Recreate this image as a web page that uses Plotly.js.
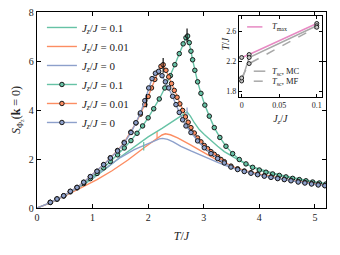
<!DOCTYPE html>
<html><head><meta charset="utf-8">
<script src="https://cdn.plot.ly/plotly-3.0.1.min.js"></script>
<style>html,body{margin:0;padding:0;background:#fff}#plot{width:340px;height:255px}</style>
</head><body><div id="plot"></div>
<script>
// ---------- main panel: curves without markers ----------
const greenLineT = [0,0.25,0.5,0.75,1.0,1.25,1.5,1.75,2.0,2.25,2.5,2.62,2.7,2.76,2.83,2.92,3.01,3.13,3.25,3.37,3.49,3.67,3.85,4.05,4.25,4.5,4.75,5.0,5.2];
const greenLineS = [0,0.22,0.5,0.82,1.2,1.62,2.08,2.5,2.9,3.25,3.6,3.8,3.92,3.75,3.48,3.2,3.0,2.75,2.52,2.3,2.13,1.9,1.7,1.55,1.42,1.29,1.17,1.06,0.99];
const orangeLineT = [0,0.25,0.54,0.8,1.08,1.35,1.63,1.92,2.16,2.25,2.31,2.4,2.53,2.65,2.77,2.95,3.1,3.25,3.5,3.75,4.0,4.25,4.5,4.75,5.0,5.2];
const orangeLineS = [0,0.22,0.54,0.83,1.16,1.52,1.95,2.45,2.86,2.98,3.03,2.99,2.86,2.72,2.57,2.33,2.12,1.94,1.7,1.52,1.38,1.26,1.16,1.07,0.99,0.93];
const blueLineT = [0,0.25,0.5,0.75,1.0,1.25,1.5,1.75,1.92,2.08,2.2,2.26,2.35,2.45,2.59,2.77,2.95,3.1,3.25,3.5,3.75,4.0,4.25,4.5,4.75,5.0,5.2];
const blueLineS = [0,0.23,0.51,0.84,1.24,1.66,2.06,2.38,2.55,2.72,2.82,2.84,2.8,2.7,2.52,2.33,2.15,2.0,1.86,1.64,1.48,1.35,1.24,1.14,1.06,0.98,0.92];

// ---------- main panel: curves with markers ----------
const greenDotT = [0.24,0.36,0.48,0.6,0.72,0.84,0.96,1.08,1.2,1.32,1.45,1.57,1.69,1.8,1.9,2.0,2.1,2.2,2.3,2.4,2.48,2.56,2.63,2.68,2.71,2.74,2.77,2.8,2.84,2.89,2.95,3.02,3.1,3.19,3.29,3.4,3.52,3.64,3.76,3.88,4.0,4.12,4.24,4.36,4.48,4.6,4.72,4.84,4.96,5.08,5.2];
const greenDotS = [0.23,0.36,0.49,0.66,0.82,1.0,1.2,1.41,1.64,1.9,2.17,2.45,2.75,3.05,3.35,3.68,4.05,4.45,4.9,5.4,5.85,6.3,6.7,6.95,7.02,6.75,6.4,6.05,5.62,5.15,4.68,4.2,3.75,3.28,2.88,2.52,2.22,1.98,1.8,1.66,1.55,1.46,1.39,1.33,1.27,1.21,1.16,1.11,1.06,1.02,0.98];
const orangeDotT = [0.24,0.36,0.48,0.6,0.72,0.84,0.96,1.08,1.2,1.32,1.45,1.57,1.69,1.78,1.86,1.94,2.0,2.06,2.12,2.18,2.23,2.27,2.32,2.37,2.42,2.47,2.52,2.57,2.62,2.67,2.72,2.77,2.83,2.89,2.95,3.01,3.07,3.13,3.19,3.25,3.31,3.37,3.49,3.61,3.73,3.85,3.97,4.09,4.21,4.33,4.45,4.57,4.7,4.82,4.94,5.06,5.18];
const orangeDotS = [0.23,0.37,0.5,0.68,0.84,1.05,1.28,1.5,1.77,2.05,2.35,2.68,3.1,3.47,3.83,4.22,4.55,4.9,5.25,5.55,5.78,5.85,5.62,5.35,5.08,4.8,4.52,4.25,3.98,3.72,3.5,3.28,3.06,2.86,2.7,2.55,2.42,2.3,2.19,2.09,1.98,1.89,1.71,1.6,1.51,1.44,1.38,1.32,1.27,1.22,1.17,1.13,1.08,1.04,1.0,0.96,0.92];
const blueDotT = [0.24,0.36,0.48,0.6,0.72,0.84,0.96,1.08,1.2,1.32,1.45,1.57,1.69,1.78,1.86,1.94,2.01,2.07,2.13,2.19,2.25,2.31,2.37,2.44,2.5,2.56,2.62,2.68,2.77,2.89,3.01,3.13,3.25,3.37,3.49,3.61,3.73,3.85,3.97,4.09,4.21,4.33,4.45,4.57,4.7,4.82,4.94,5.06,5.18];
const blueDotS = [0.23,0.37,0.5,0.68,0.84,1.05,1.28,1.5,1.77,2.04,2.33,2.66,3.08,3.48,3.88,4.38,4.9,5.28,5.5,5.58,5.4,5.15,4.9,4.56,4.22,3.9,3.6,3.35,3.08,2.74,2.46,2.22,2.02,1.84,1.67,1.57,1.49,1.42,1.36,1.3,1.25,1.2,1.16,1.11,1.06,1.02,0.98,0.94,0.91];

// ---------- error-bar ticks (T_sc markers) ----------
const dotTickT = [1.97, 2.27, 2.70];
const dotTickS = [4.38, 5.82, 7.05];
const dotTickErr = [0.27, 0.30, 0.28];
const lineTickT = [1.92, 2.16, 2.70];
const lineTickS = [2.52, 2.98, 3.90];
const lineTickErr = [0.17, 0.12, 0.2];

// ---------- inset ----------
const jz = [0, 0.01, 0.1];
const tMax = [2.25, 2.29, 2.70];
const tScMC = [1.94, 2.25, 2.67];
const tScMF = [1.98, 2.17, 2.65];
const insetLabels = ['<i>T</i><sub>max</sub>', '<i>T</i><sub>sc</sub>, MC', '<i>T</i><sub>sc</sub>, MF'];

const legendLabels = ['<i>J<sub>z</sub></i>/<i>J</i> = 0.1', '<i>J<sub>z</sub></i>/<i>J</i> = 0.01', '<i>J<sub>z</sub></i>/<i>J</i> = 0'];
const cGreen = '#66c2a5', cOrange = '#fc8d62', cBlue = '#8da0cb', cPink = '#e78ac3', cGray = '#a8a8a8';
const colors = [cGreen, cOrange, cBlue];

const traces = [];
const lineSets = [[greenLineT, greenLineS], [orangeLineT, orangeLineS], [blueLineT, blueLineS]];
lineSets.forEach((s, i) => traces.push({
  x: s[0], y: s[1], mode: 'lines', name: legendLabels[i], line: {color: colors[i], width: 1.4},
  xaxis: 'x', yaxis: 'y'
}));
lineTickT.forEach((t, i) => traces.push({
  x: [t], y: [lineTickS[i]], mode: 'markers', marker: {size: 1, color: 'rgba(0,0,0,0)'},
  error_y: {type: 'data', array: [lineTickErr[i]], color: colors[i], thickness: 1.2, width: 0},
  showlegend: false, hoverinfo: 'skip'
}));
const dotSets = [[greenDotT, greenDotS], [orangeDotT, orangeDotS], [blueDotT, blueDotS]];
dotSets.forEach((s, i) => traces.push({
  x: s[0], y: s[1], mode: 'lines+markers', name: legendLabels[i],
  line: {color: colors[i], width: 1.4},
  marker: {symbol: 'circle', size: 4.5, color: colors[i], line: {color: '#1a1a1a', width: 1}},
  xaxis: 'x', yaxis: 'y'
}));
traces.push({
  x: dotTickT, y: dotTickS, mode: 'markers', marker: {size: 1, color: 'rgba(0,0,0,0)'},
  error_y: {type: 'data', array: dotTickErr, color: '#111', thickness: 1.2, width: 0},
  showlegend: false, hoverinfo: 'skip'
});

// inset traces
const insetSeries = [tMax, tScMC, tScMF];
const insetStyles = [{color: cPink, width: 1.5}, {color: cGray, width: 1.5}, {color: cGray, width: 1.5, dash: 'dash'}];
insetSeries.forEach((v, i) => traces.push({x: jz, y: v, mode: 'lines', name: insetLabels[i], line: insetStyles[i],
  xaxis: 'x2', yaxis: 'y2', showlegend: false}));
insetSeries.forEach(v => traces.push({
  x: jz, y: v, mode: 'markers', marker: {size: 4, color: '#c8c8c8', line: {color: '#222', width: 1}},
  xaxis: 'x2', yaxis: 'y2', showlegend: false, hoverinfo: 'skip'
}));

const serif = 'Liberation Serif, DejaVu Serif, serif';
const axBase = {showline: true, mirror: 'ticks', linecolor: '#000', linewidth: 1.2, ticks: 'inside',
  tickcolor: '#000', showgrid: false, zeroline: false, tickfont: {family: serif, size: 10, color: '#222'}};

// inset key (line samples + labels), positioned in paper coordinates
const keyY = [0.924, 0.698, 0.647];
const keyX0 = [0.727, 0.75, 0.75], keyX1 = [0.78, 0.79, 0.79];
const shapes = insetStyles.map((st, i) => ({type: 'line', xref: 'paper', yref: 'paper',
  x0: keyX0[i], x1: keyX1[i], y0: keyY[i], y1: keyY[i], line: st}));
const annotations = insetLabels.map((t, i) => ({text: t, xref: 'paper', yref: 'paper', x: 0.805, y: keyY[i],
  xanchor: 'left', yanchor: 'middle', showarrow: false, font: {family: serif, size: 8.5, color: '#222'}}));
annotations.push({text: '<i>T</i>/<i>J</i>', xref: 'paper', yref: 'paper', x: 0.675, y: 0.88,
  textangle: -90, showarrow: false, font: {family: serif, size: 10, color: '#222'}});

const layout = {
  width: 340, height: 255,
  margin: {l: 37, r: 14, t: 12, b: 47},
  paper_bgcolor: '#fff', plot_bgcolor: '#fff',
  font: {family: serif, color: '#222'},
  xaxis: Object.assign({}, axBase, {range: [0, 5.2], tickvals: [0,1,2,3,4,5], ticklen: 4, domain: [0, 1],
    title: {text: '<i>T</i>/<i>J</i>', font: {family: serif, size: 12}, standoff: 9}}),
  yaxis: Object.assign({}, axBase, {range: [0, 8], tickvals: [0,2,4,6,8], ticklen: 4, domain: [0, 1],
    title: {text: '<i>S</i><sub>Φ<sub>z</sub></sub>(<b>k</b> = 0)', font: {family: serif, size: 12}, standoff: 5}}),
  xaxis2: Object.assign({}, axBase, {anchor: 'y2', domain: [0.699, 0.985], range: [-0.0035, 0.1065],
    tickvals: [0, 0.05, 0.1], ticktext: ['0', '0.05', '0.1'], ticklen: 3, linewidth: 1.2,
    tickfont: {family: serif, size: 8, color: '#222'},
    title: {text: '<i>J<sub>z</sub></i>/<i>J</i>', font: {family: serif, size: 10}, standoff: 6}}),
  yaxis2: Object.assign({}, axBase, {anchor: 'x2', domain: [0.567, 0.98], range: [1.73, 2.8],
    tickvals: [1.8, 2.2, 2.6], ticktext: ['1.8', '2.2', '2.6'], ticklen: 3, linewidth: 1.2,
    tickfont: {family: serif, size: 8, color: '#222'}}),
  legend: {x: 0.017, y: 0.995, xanchor: 'left', yanchor: 'top', bgcolor: 'rgba(0,0,0,0)',
    font: {family: serif, size: 11, color: '#222'}, tracegroupgap: 0, itemwidth: 30},
  shapes: shapes,
  annotations: annotations,
  showlegend: true
};
Plotly.newPlot('plot', traces, layout, {staticPlot: true, displayModeBar: false});
</script></body></html>
